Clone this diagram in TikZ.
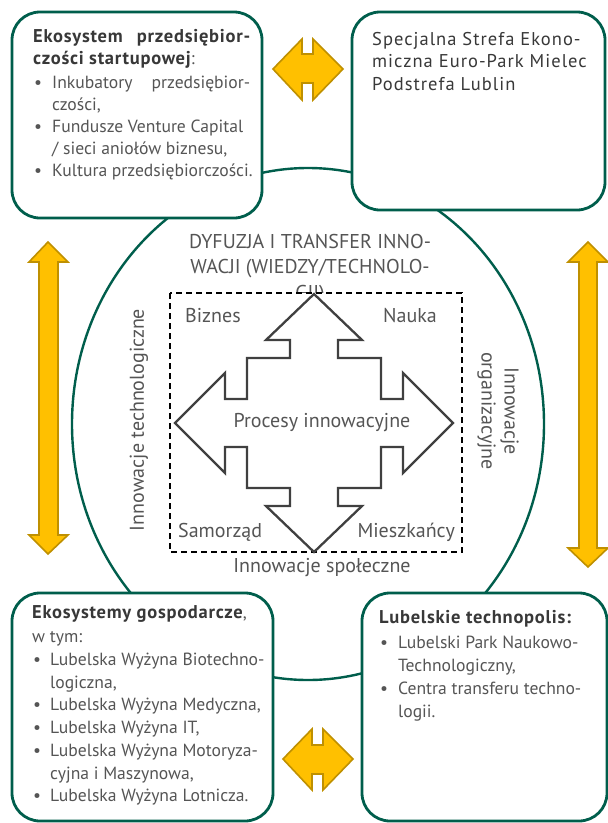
\documentclass[tikz,border=0pt]{standalone}
\usepackage{fontspec}
\setmainfont{PT Sans}
\definecolor{grn}{HTML}{005E4C}
\definecolor{ylw}{HTML}{FFC000}
\definecolor{ylwd}{HTML}{BF9000}
\definecolor{txd}{HTML}{383838}
\definecolor{txl}{HTML}{555555}
\definecolor{crs}{HTML}{404040}
\newcommand\bulx[1]{\makebox[#1][l]{\hspace{1pt}\textbullet}}
\newcommand\indx[1]{\hspace*{#1}}
\newcommand\hdx[1]{{\fontsize{18.5}{22}\selectfont\bfseries\addfontfeatures{LetterSpace=4}\color{txd}#1}}
\begin{document}
\begin{tikzpicture}[x=1pt,y=-1pt,
  box/.style={draw=grn, line width=2.8pt, fill=white, rounded corners=28pt},
  yarrow/.style={fill=ylw, draw=ylwd, line width=1.6pt, line join=miter},
  txt/.style={inner sep=0pt, text=txl, font=\fontsize{17.6}{22}\selectfont, align=left},
  lbl/.style={inner sep=0pt, text=txl, font=\fontsize{20}{23}\selectfont}]
\useasboundingbox[fill=white] (0,0) rectangle (608,823);
% big ellipse
\draw[grn, line width=2.4pt] (308,424) ellipse [x radius=236, y radius=256];
% boxes
\draw[box] (12,12) rectangle (262,218);
\draw[box] (352,12) rectangle (605,210);
\draw[box] (12,593) rectangle (273,821);
\draw[box] (362,593) rectangle (607,821);
% yellow arrows
\draw[yarrow] (273,69) -- (302,39) -- (302,54) -- (313,54) -- (313,39) -- (343,69)
  -- (313,100) -- (313,83) -- (302,83) -- (302,100) -- cycle;
\draw[yarrow] (283,759) -- (312,729) -- (312,745) -- (323,745) -- (323,729) -- (353,759)
  -- (323,790) -- (323,774) -- (312,774) -- (312,790) -- cycle;
\draw[yarrow] (48,242) -- (68,262) -- (58,262) -- (58,535) -- (68,535) -- (48,554)
  -- (29,535) -- (39,535) -- (39,262) -- (29,262) -- cycle;
\draw[yarrow] (588,242) -- (608,262) -- (597,262) -- (597,548) -- (608,548) -- (588,567)
  -- (568,548) -- (579,548) -- (579,262) -- (568,262) -- cycle;
% box texts
\node[txt, anchor=north west] (tltext) at (33,29) {%
\hdx{\makebox[217pt][s]{Ekosystem przedsiębior-}}\\
\hdx{czości startupowej}:\\[2pt]
\bulx{19pt}\makebox[198pt][s]{Inkubatory przedsiębior-}\\
\indx{19pt}czości,\\
\bulx{19pt}Fundusze Venture Capital\\
\indx{19pt}/ sieci aniołów biznesu,\\
\bulx{19pt}Kultura przedsiębiorczości.};
\node[txt, anchor=north west, text=txd, font=\fontsize{18.5}{22.5}\selectfont\addfontfeatures{LetterSpace=5.5}] (trtext) at (372,32) {%
Specjalna Strefa Ekono-\\miczna Euro-Park Mielec\\Podstrefa Lublin};
\node[txt, anchor=north west, font=\fontsize{17.6}{22.7}\selectfont] (bltext) at (32,605) {%
\hdx{Ekosystemy gospodarcze},\\[2pt]
w tym:\\
\bulx{18pt}Lubelska Wyżyna Biotechno-\\
\indx{18pt}logiczna,\\
\bulx{18pt}Lubelska Wyżyna Medyczna,\\
\bulx{18pt}Lubelska Wyżyna IT,\\
\bulx{18pt}Lubelska Wyżyna Motoryza-\\
\indx{18pt}cyjna i Maszynowa,\\
\bulx{18pt}Lubelska Wyżyna Lotnicza.};
\node[txt, anchor=north west, font=\fontsize{17.6}{23}\selectfont] (brtext) at (379,610) {%
\hdx{Lubelskie technopolis:}\\[2pt]
\bulx{19pt}Lubelski Park Naukowo-\\
\indx{19pt}Technologiczny,\\
\bulx{19pt}Centra transferu techno-\\
\indx{19pt}logii.};
% centre
\node[lbl, align=center, anchor=north, font=\fontsize{20}{25.5}\selectfont] (title) at (310,234)
  {DYFUZJA I TRANSFER INNO-\\WACJI (WIEDZY/TECHNOLO-\\GII)};
\draw[black, line width=1.8pt, dash pattern=on 6pt off 4pt, fill=white] (170,293) rectangle (462,552);
\draw[crs, line width=2.3pt, fill=white, line join=miter] (314,423)
  ++(0,-129) -- ++(48,46) -- ++(-24,0) -- ++(0,18) -- ++(43,0) -- ++(0,41) -- ++(22,0)
  -- ++(0,-26) -- ++(50,50) -- ++(-50,50) -- ++(0,-26) -- ++(-22,0) -- ++(0,41)
  -- ++(-43,0) -- ++(0,18) -- ++(24,0) -- ++(-48,46) -- ++(-48,-46) -- ++(24,0)
  -- ++(0,-18) -- ++(-43,0) -- ++(0,-41) -- ++(-22,0) -- ++(0,26) -- ++(-50,-50)
  -- ++(50,-50) -- ++(0,26) -- ++(22,0) -- ++(0,-41) -- ++(43,0) -- ++(0,-18)
  -- ++(-24,0) -- cycle;
\node[lbl, anchor=base west] (biz) at (185,322) {Biznes};
\node[lbl, anchor=base east] (nau) at (437,322) {Nauka};
\node[lbl, anchor=base] (proc) at (322,427) {Procesy innowacyjne};
\node[lbl, anchor=base west] (sam) at (178,537) {Samorząd};
\node[lbl, anchor=base east] (mie) at (455,537) {Mieszkańcy};
\node[lbl, anchor=base] (spo) at (322,572) {Innowacje społeczne};
\node[lbl, rotate=90, anchor=center] (tech) at (139,420) {Innowacje technologiczne};
\node[lbl, rotate=-90, anchor=center, align=center] (org) at (498,411) {Innowacje\\organizacyjne};
\end{tikzpicture}
\end{document}
